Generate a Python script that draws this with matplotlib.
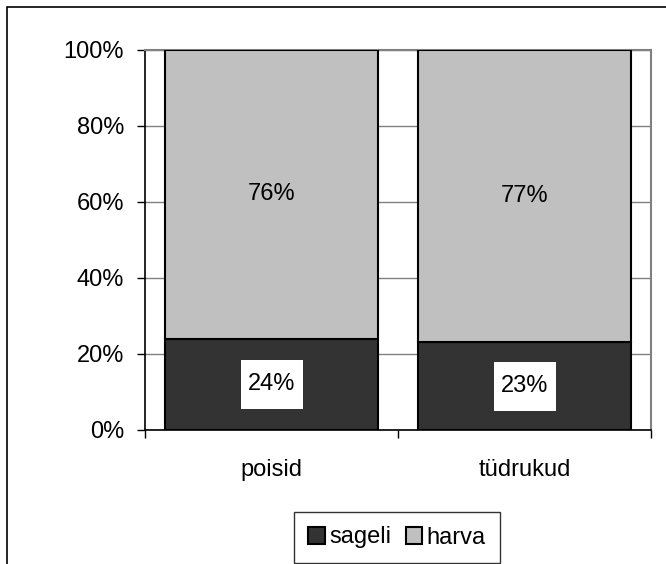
import matplotlib
matplotlib.use("Agg")
import matplotlib.pyplot as plt
from matplotlib.patches import Rectangle
from matplotlib.ticker import FixedLocator

categories = ["poisid", "tüdrukud"]
series_names = ["sageli", "harva"]
sageli = [24, 23]
harva = [76, 77]
ytick_labels = ["0%", "20%", "40%", "60%", "80%", "100%"]
colors = ["#333333", "#C0C0C0"]

plt.rcParams['font.family'] = ['Liberation Sans', 'DejaVu Sans']
FS = 17

fig = plt.figure(figsize=(6.66, 5.64), dpi=100)
ax = fig.add_axes([145/666, 1-430/564, (651-145)/666, (430-49.5)/564])

# outer frame (cropped on right/bottom)
fig.patches.append(Rectangle((6.5/666, -0.1), 1.2, 1 - 7/564 + 0.1, transform=fig.transFigure,
                             fill=False, edgecolor="black", linewidth=1.2, zorder=0))

x = list(range(len(categories)))
w = 0.84
ax.bar(x, sageli, width=w, color=colors[0], edgecolor="black", linewidth=1.5, label=series_names[0], zorder=3)
ax.bar(x, harva, width=w, bottom=sageli, color=colors[1], edgecolor="black", linewidth=1.5, label=series_names[1], zorder=3)

box_w = 62/253
box_h = 49/381*100
for xi, s, h in zip(x, sageli, harva):
    ax.add_patch(Rectangle((xi - box_w/2, s/2 - box_h/2), box_w, box_h, facecolor="white",
                           edgecolor="none", zorder=4))
    ax.text(xi, s/2, f"{s}%", ha="center", va="center", fontsize=FS, color="black", zorder=5)
    ax.text(xi, s + h/2, f"{h}%", ha="center", va="center", fontsize=FS, color="black", zorder=5)

ax.set_xlim(-0.5, len(categories) - 0.5)
ax.set_ylim(0, 100)
yt = [0, 20, 40, 60, 80, 100]
ax.set_yticks(yt)
ax.set_yticklabels(ytick_labels, fontsize=FS)
ax.set_xticks(x)
ax.set_xticklabels(categories, fontsize=FS)
ax.tick_params(axis="x", which="major", length=0, pad=21)
ax.xaxis.set_minor_locator(FixedLocator([-0.5, 0.5, 1.5]))
ax.tick_params(axis="x", which="minor", length=6, direction="out", color="black", width=1)
ax.tick_params(axis="y", length=6, direction="out", color="black", width=1, pad=9)

ax.yaxis.grid(True, color="#808080", linewidth=1, zorder=0)
ax.set_axisbelow(True)
for side in ["left", "bottom"]:
    ax.spines[side].set_color("black")
    ax.spines[side].set_linewidth(1.2)
for side in ["top", "right"]:
    ax.spines[side].set_color("#808080")
    ax.spines[side].set_linewidth(1.5)

leg = fig.legend(loc="center", bbox_to_anchor=(397/666, 1-537.5/564), ncol=2, fontsize=FS,
                 frameon=True, fancybox=False, handlelength=0.7, handleheight=0.7,
                 handletextpad=0.2, columnspacing=0.6, borderpad=0.6, borderaxespad=0)
leg.get_frame().set_edgecolor("black")
leg.get_frame().set_linewidth(1)

fig.savefig("out.png", dpi=100)
